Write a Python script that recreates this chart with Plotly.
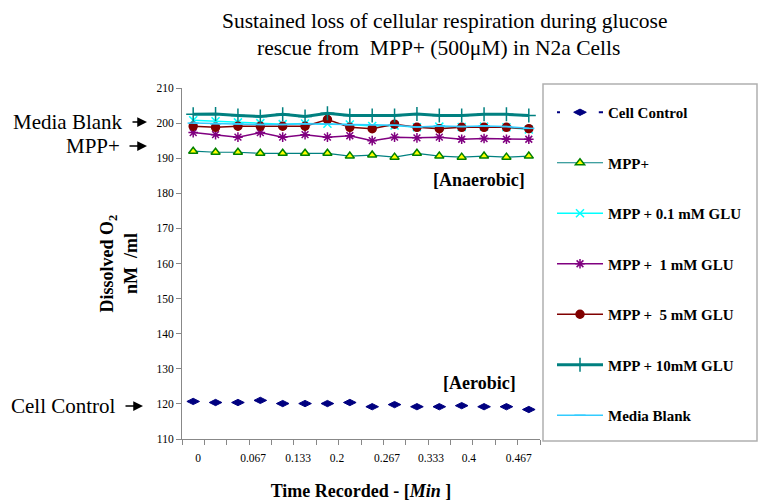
import plotly.graph_objects as go

# ---- data ----
n_points = 16
x_idx = list(range(n_points))
tick_labels = ["0", "0.067", "0.133", "0.2", "0.267", "0.333", "0.4", "0.467"]

series_names = ["Cell Control", "MPP+", "MPP + 0.1 mM GLU", "MPP +  1 mM GLU",
                "MPP +  5 mM GLU", "MPP + 10mM GLU", "Media Blank"]

cell_control = [120.7,120.4,120.4,121.0,120.1,120.1,120.1,120.4,119.2,119.8,119.2,119.2,119.5,119.2,119.2,118.4]
mpp = [192.0,191.7,191.7,191.4,191.4,191.4,191.4,190.6,190.9,190.3,191.4,190.6,190.3,190.6,190.3,190.6]
mpp_01 = [200.8,200.5,200.2,200.0,199.7,199.9,199.8,199.6,199.2,199.3,198.8,199.0,198.9,199.0,198.8,198.2]
mpp_1 = [197.3,196.7,196.0,197.3,196.0,196.7,196.0,196.4,195.0,196.0,195.8,196.0,195.4,195.6,195.4,195.4]
mpp_5 = [199.1,198.8,199.1,199.1,199.1,199.1,201.0,198.8,198.4,199.7,198.8,198.4,198.8,198.8,198.8,198.4]
mpp_10 = [202.5,202.6,202.2,201.9,202.5,201.9,202.8,202.2,202.2,202.2,202.6,202.2,202.2,202.5,202.5,202.2]
media_blank = [200.0,199.8,199.8,199.6,199.6,199.8,199.7,199.5,199.5,199.4,198.9,199.2,199.0,199.2,199.0,198.5]

title_lines = ["Sustained loss of cellular respiration during glucose",
               "rescue from  MPP+ (500μM) in N2a Cells"]

FONT = "Liberation Serif, Times New Roman, serif"

# plot-area pixel geometry
L, R, T, B = 182, 540, 88, 439
W, H = R - L, B - T
def px(x): return (x - L) / W
def py(y): return (B - y) / H

fig = go.Figure()

def add(name, y, color, width, symbol, msize, mcolor, mline, dash="solid", mlw=1.5):
    fig.add_trace(go.Scatter(
        x=x_idx, y=y, name="<b>" + name + "</b>", mode="lines+markers",
        line=dict(color=color, width=width, dash=dash),
        marker=dict(symbol=symbol, size=msize, color=mcolor,
                    line=dict(color=mline, width=mlw)),
        legendgroup=name,
    ))

add(series_names[0], cell_control, "#000080", 2, "diamond-wide", 9, "#000080", "#000080",
    dash="3px,16.4px,3px,0px", mlw=1)
add(series_names[1], mpp, "#008080", 1.2, "triangle-up", 8, "#ffff00", "#008000")
add(series_names[2], mpp_01, "#00ffff", 1.5, "x-thin-open", 8, "#00ffff", "#00ffff")
add(series_names[3], mpp_1, "#800080", 1.5, "asterisk-open", 8, "#800080", "#800080")
add(series_names[4], mpp_5, "#800000", 1.5, "circle", 8, "#800000", "#800000")
add(series_names[5], mpp_10, "#008080", 3, "cross-thin-open", 10, "#008080", "#008080")
add(series_names[6], media_blank, "#33ccff", 1.5, "line-ew-open", 8, "#33ccff", "#33ccff")

# x tick-label positions (between categories, as in the original)
label_pos = [0.22, 2.68, 4.69, 6.43, 8.66, 10.63, 12.32, 14.55]

fig.add_trace(go.Scatter(x=[0], y=[150], xaxis="x2", mode="markers",
                         marker=dict(opacity=0), showlegend=False, hoverinfo="skip"))

fig.update_layout(
    width=758, height=504,
    margin=dict(l=L, r=758 - R, t=T, b=504 - B, autoexpand=False),
    paper_bgcolor="white", plot_bgcolor="white",
    font=dict(family=FONT, color="black"),
    xaxis=dict(range=[-0.5, 15.5], tickvals=[i + 0.5 for i in range(-1, 16)],
               showticklabels=False, ticks="outside", ticklen=5, tickcolor="#888",
               showline=True, linecolor="#888", linewidth=1, showgrid=False, zeroline=False,
               automargin=False),
    xaxis2=dict(range=[-0.5, 15.5], overlaying="x", anchor="y", side="bottom",
                tickvals=label_pos, ticktext=tick_labels, ticks="outside", ticklen=8,
                tickcolor="rgba(0,0,0,0)", showline=False, showgrid=False, zeroline=False,
                tickfont=dict(size=11.5, family=FONT), automargin=False,
                title=dict(text="<b>Time Recorded - [<i>Min</i> ]</b>", font=dict(size=18, family=FONT), standoff=21)),
    yaxis=dict(range=[110, 210], tickvals=list(range(110, 211, 10)), ticks="outside", ticklen=5,
               tickcolor="#888", showline=True, linecolor="#888", linewidth=1, showgrid=False,
               zeroline=False, tickfont=dict(size=11.5, family=FONT), automargin=False,
               title=dict(text="<b>Dissolved O<sub>2</sub><br>nM  /ml</b>", font=dict(size=18, family=FONT), standoff=14)),
    legend=dict(x=px(552), xanchor="left", y=py(96), yanchor="top",
                borderwidth=0, bgcolor="rgba(0,0,0,0)",
                font=dict(size=15, family=FONT, color="black"),
                tracegroupgap=28, traceorder="grouped",
                itemwidth=46, valign="middle", maxheight=420),
    showlegend=True,
)

# legend frame
fig.add_shape(type="rect", xref="paper", yref="paper",
              x0=px(543), x1=px(757), y0=py(441), y1=py(84),
              line=dict(color="#b0b0b0", width=1.5), fillcolor="rgba(0,0,0,0)", layer="below")

# title (two lines, positioned separately)
for line, cx, cy in [(title_lines[0], 444, 21), (title_lines[1], 438, 48)]:
    fig.add_annotation(text=line, xref="paper", yref="paper", x=px(cx), y=py(cy),
                       xanchor="center", yanchor="middle", showarrow=False,
                       font=dict(size=21.5, family=FONT))

ann = [
    dict(text="<b>[Anaerobic]</b>", x=479, y=180),
    dict(text="<b>[Aerobic]</b>", x=479, y=383),
]
for a in ann:
    fig.add_annotation(text=a["text"], xref="paper", yref="paper",
                       x=px(a["x"]), y=py(a["y"]), xanchor="center", yanchor="middle",
                       showarrow=False, font=dict(size=18, family=FONT))

side = [("Media Blank", 125, 122, 147), ("MPP+", 122, 146, 147), ("Cell Control", 118, 406, 143)]
for text, tx, ty, hx in side:
    fig.add_annotation(text=text, xref="paper", yref="paper",
                       x=px(tx), y=py(ty), xanchor="right", yanchor="middle",
                       showarrow=False, font=dict(size=21, family=FONT))
    fig.add_annotation(text="", xref="paper", yref="paper",
                       x=px(hx), y=py(ty),
                       ax=(tx + 6 - hx), ay=0, axref="pixel", ayref="pixel",
                       showarrow=True, arrowhead=2, arrowsize=1.3, arrowwidth=1.5, arrowcolor="black")

fig.write_html("out.html")
